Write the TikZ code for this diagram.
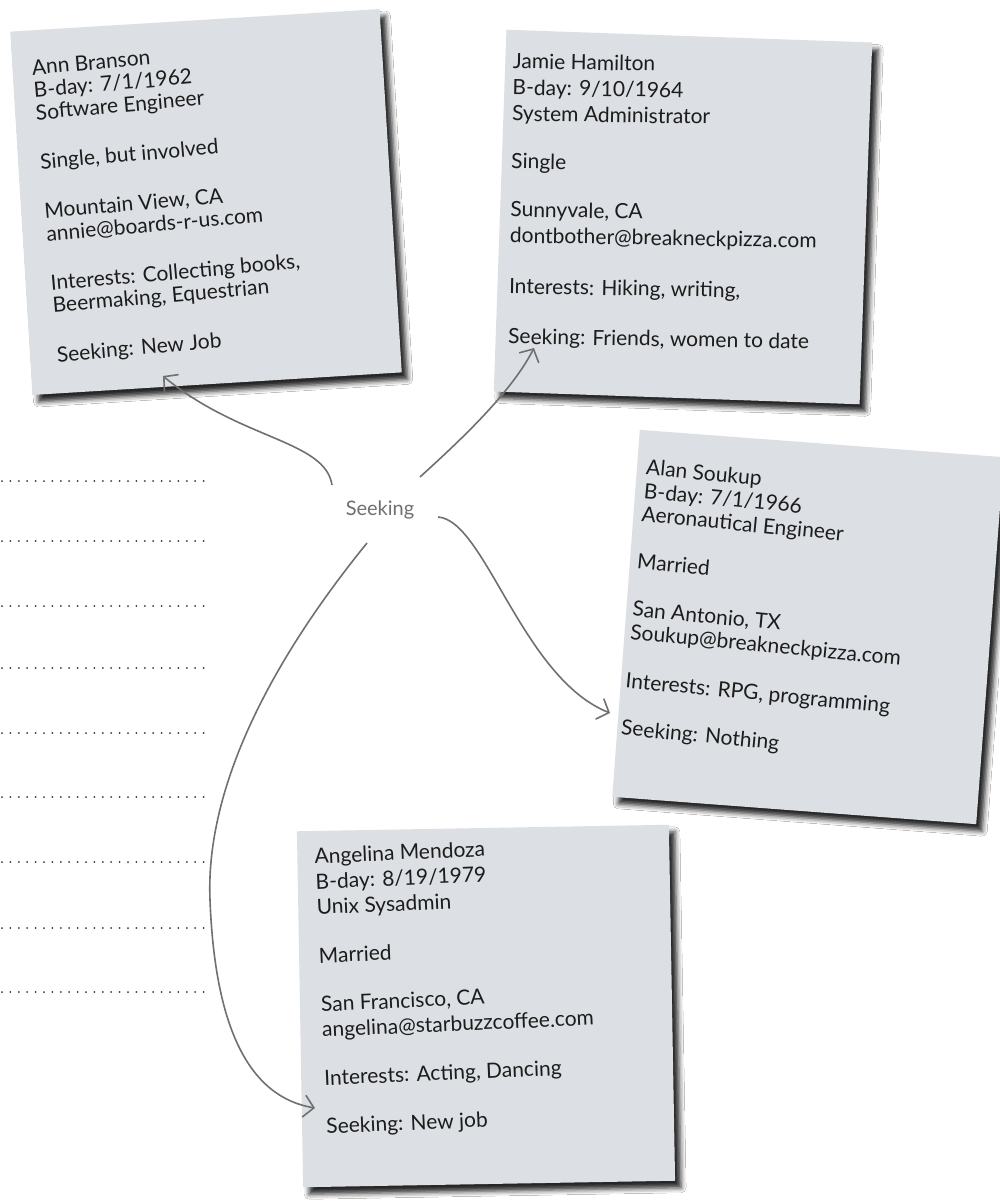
\documentclass[tikz,border=0pt]{standalone}
\usepackage{fontspec}
\setmainfont{Lato}
\usetikzlibrary{arrows.meta,shadows.blur}
\definecolor{cardfill}{RGB}{220,223,227}
\definecolor{ink}{RGB}{28,28,28}
\definecolor{arrowc}{RGB}{112,112,112}
\definecolor{dotc}{RGB}{55,55,55}
\begin{document}
\begin{tikzpicture}[x=1pt,y=-1pt,
  card/.style={fill=cardfill, inner sep=0pt,
    blur shadow={shadow xshift=6pt, shadow yshift=-7pt, shadow blur radius=5pt, shadow opacity=85}},
  cardtext/.style={text=ink, align=left, inner sep=0pt, anchor=north west},
  arr/.style={draw=arrowc, line width=1.6pt, -{Straight Barb[length=10pt,width=22pt]}},
  dotline/.style={draw=dotc, line width=2pt, line cap=round, dash pattern=on 0pt off 8.4pt},
  label/.style={text=arrowc, font=\fontsize{20}{24}\selectfont, inner sep=2pt}]
\useasboundingbox[fill=white] (0,0) rectangle (999,1204);

% dotted writing lines
\foreach \yy in {481,541,606,668,733,797,862,928,992}
  \draw[dotline] (2,\yy) -- (210,\yy);

% cards
\node[card, minimum width=370pt, minimum height=364pt, rotate=3.5] (ann) at (206,202) {};
\node[card, minimum width=366pt, minimum height=362pt, rotate=-2] (jamie) at (683,217) {};
\node[card, minimum width=365pt, minimum height=368pt, rotate=-4.3] (alan) at (808,627) {};
\node[card, minimum width=372pt, minimum height=356pt, rotate=1] (angelina) at (486,1006) {};

% card texts
\node[cardtext, rotate=5, font=\fontsize{21}{22.5}\selectfont] (annT) at (31,60) {%
Ann Branson\\B-day: 7/1/1962\\Software Engineer\\[27pt]
Single, but involved\\[27pt]
Mountain View, CA\\annie@boards-r-us.com\\[27pt]
Interests: Collecting books,\\Beermaking, Equestrian\\[27pt]
Seeking: New Job};

\node[cardtext, rotate=-1, font=\fontsize{21}{26}\selectfont] (jamieT) at (513,53) {%
Jamie Hamilton\\B-day: 9/10/1964\\System Administrator\\[22pt]
Single\\[22pt]
Sunnyvale, CA\\dontbother@breakneckpizza.com\\[25pt]
Interests: Hiking, writing,\\[24pt]
Seeking: Friends, women to date};

\node[cardtext, rotate=-5.5, font=\fontsize{21}{23.5}\selectfont] (alanT) at (647,459) {%
Alan Soukup\\B-day: 7/1/1966\\Aeronautical Engineer\\[24pt]
Married\\[24pt]
San Antonio, TX\\Soukup@breakneckpizza.com\\[25pt]
Interests: RPG, programming\\[24pt]
Seeking: Nothing};

\node[cardtext, rotate=2.5, font=\fontsize{21}{25.5}\selectfont] (angelinaT) at (314,848) {%
Angelina Mendoza\\B-day: 8/19/1979\\Unix Sysadmin\\[23pt]
Married\\[23pt]
San Francisco, CA\\angelina@starbuzzcoffee.com\\[23pt]
Interests: Acting, Dancing\\[23pt]
Seeking: New job};

% center label
\node[label] (seek) at (380,510) {Seeking};

% arrow tips (free ends)
\coordinate (tipAnn) at (163,376);
\coordinate (tipJamie) at (534,348);
\coordinate (tipAlan) at (610,713);
\coordinate (tipAngelina) at (315,1108);

% connectors
\draw[arr] ([shift={(-48,-25)}]seek.center) .. controls (325,440) and (240,440) .. (tipAnn);
\draw[arr] ([shift={(40,-33)}]seek.center) .. controls (455,445) and (510,395) .. (tipJamie);
\draw[arr] ([shift={(58,7)}]seek.center) .. controls (485,520) and (522,678) .. (tipAlan);
\draw[arr] ([shift={(-13,33)}]seek.center) .. controls (280,650) and (205,780) .. (210,900)
  .. controls (215,1030) and (250,1097) .. (tipAngelina);
\end{tikzpicture}
\end{document}
